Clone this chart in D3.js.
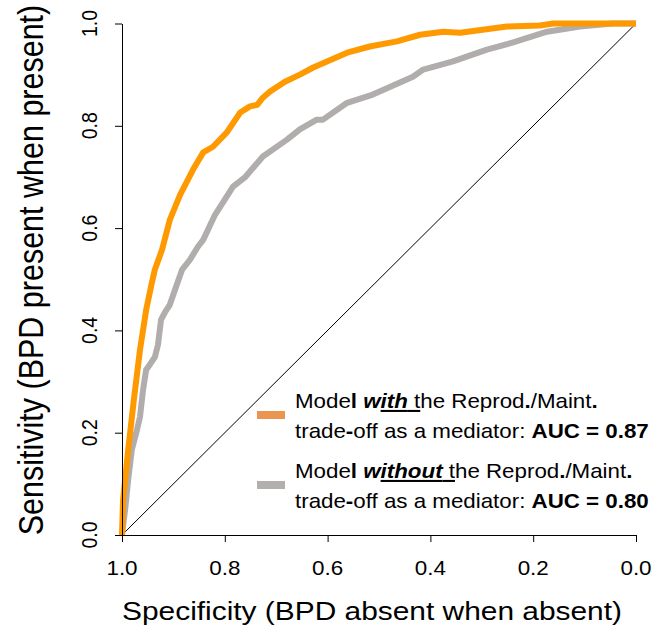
<!DOCTYPE html>
<html>
<head>
<meta charset="utf-8">
<script src="https://cdn.jsdelivr.net/npm/d3@7"></script>
<style>
  body { margin: 0; background: #fff; }
  text { font-family: "Liberation Sans", Arial, sans-serif; fill: #000; }
</style>
</head>
<body>
<script>
// ROC curves (specificity, sensitivity)
var specWith = [1.000, 0.998, 0.988, 0.977, 0.965, 0.953, 0.942, 0.936, 0.922, 0.907, 0.887, 0.862, 0.842, 0.823, 0.796, 0.770, 0.751, 0.737, 0.726, 0.712, 0.683, 0.654, 0.628, 0.562, 0.518, 0.465, 0.420, 0.375, 0.342, 0.251, 0.187, 0.161, 0.000];
var sensWith = [0.000, 0.068, 0.166, 0.264, 0.362, 0.440, 0.493, 0.519, 0.558, 0.616, 0.665, 0.714, 0.748, 0.759, 0.787, 0.826, 0.838, 0.841, 0.855, 0.867, 0.886, 0.900, 0.914, 0.943, 0.955, 0.965, 0.978, 0.984, 0.982, 0.994, 0.996, 1.000, 1.000];

var specWithout = [1.000, 0.994, 0.988, 0.981, 0.971, 0.965, 0.959, 0.953, 0.946, 0.936, 0.930, 0.924, 0.916, 0.907, 0.897, 0.883, 0.868, 0.852, 0.842, 0.819, 0.784, 0.761, 0.726, 0.679, 0.654, 0.621, 0.609, 0.562, 0.512, 0.434, 0.414, 0.356, 0.290, 0.239, 0.173, 0.109, 0.045, 0.000];
var sensWithout = [0.000, 0.049, 0.108, 0.166, 0.205, 0.231, 0.284, 0.323, 0.333, 0.348, 0.372, 0.421, 0.436, 0.450, 0.479, 0.519, 0.538, 0.564, 0.577, 0.626, 0.681, 0.699, 0.740, 0.773, 0.793, 0.812, 0.812, 0.845, 0.861, 0.896, 0.910, 0.926, 0.949, 0.963, 0.984, 0.994, 1.000, 1.000];

var xTicks = [1.0, 0.8, 0.6, 0.4, 0.2, 0.0];
var yTicks = [0.0, 0.2, 0.4, 0.6, 0.8, 1.0];

var W = 655, H = 629;
var stretch = 1.15; // glyphs in the picture are a bit wide

var svg = d3.select('body').append('svg')
	.attr('width', W)
	.attr('height', H);

var x = d3.scaleLinear().domain([1, 0]).range([122, 636]);
var y = d3.scaleLinear().domain([0, 1]).range([535, 23.5]);

// diagonal
svg.append('line')
	.attr('x1', x(1)).attr('y1', y(0))
	.attr('x2', x(0)).attr('y2', y(1))
	.attr('stroke', '#000')
	.attr('stroke-width', 1);

var line = d3.line()
	.x(function(d) { return x(d[0]); })
	.y(function(d) { return y(d[1]); });

function pairs(a, b) { return a.map(function(v, i) { return [v, b[i]]; }); }

svg.append('path')
	.datum(pairs(specWithout, sensWithout))
	.attr('d', line)
	.attr('fill', 'none')
	.attr('stroke', '#b1adac')
	.attr('stroke-width', 6)
	.attr('stroke-linejoin', 'round');

svg.append('path')
	.datum(pairs(specWith, sensWith))
	.attr('d', line)
	.attr('fill', 'none')
	.attr('stroke', '#ff9900')
	.attr('stroke-width', 6)
	.attr('stroke-linejoin', 'round');

// axes
svg.append('g')
	.attr('transform', 'translate(0,535)')
	.call(d3.axisBottom(x).tickValues(xTicks).tickSize(7).tickSizeOuter(0).tickFormat(''));
svg.append('g')
	.attr('transform', 'translate(122,0)')
	.call(d3.axisLeft(y).tickValues(yTicks).tickSize(7).tickSizeOuter(0).tickFormat(''));
svg.selectAll('.domain, .tick line').attr('stroke', '#000').attr('stroke-width', 1);

svg.append('g').selectAll('text')
	.data(xTicks)
	.enter()
	.append('text')
	.attr('transform', function(d) { return 'translate(' + x(d) + ',575) scale(' + stretch + ',1)'; })
	.attr('text-anchor', 'middle')
	.style('font-size', '19.5px')
	.text(function(d) { return d.toFixed(1); });

svg.append('g').selectAll('text')
	.data(yTicks)
	.enter()
	.append('text')
	.attr('transform', function(d) { return 'translate(97,' + y(d) + ') scale(' + stretch + ',1) rotate(-90)'; })
	.attr('text-anchor', 'middle')
	.style('font-size', '19.5px')
	.text(function(d) { return d.toFixed(1); });

// axis titles
svg.append('text')
	.attr('transform', 'translate(372,620) scale(' + stretch + ',1)')
	.attr('text-anchor', 'middle')
	.style('font-size', '26px')
	.text('Specificity (BPD absent when absent)');

svg.append('text')
	.attr('transform', 'translate(43,270) scale(' + stretch + ',1) rotate(-90)')
	.attr('text-anchor', 'middle')
	.style('font-size', '30.5px')
	.text('Sensitivity (BPD present when present)');

// legend
function legendLine(py, parts) {
	var t = svg.append('text')
		.attr('y', py)
		.style('font-size', '20.5px')
		.attr('xml:space', 'preserve');
	parts.forEach(function(p) {
		t.append('tspan')
			.style('font-weight', p[1] ? 'bold' : 'normal')
			.style('font-style', p[2] ? 'italic' : 'normal')
			.style('text-decoration', p[3] ? 'underline' : 'none')
			.text(p[0]);
	});
	return t;
}

function legendEntry(top, word, auc, color) {
	svg.append('rect')
		.attr('x', 257).attr('y', top + 3)
		.attr('width', 28).attr('height', 8)
		.attr('fill', color);
	var l1 = legendLine(top, [
		['Mode', 0, 0, 0], ['l', 1, 0, 0], [' ', 0, 0, 0],
		[word.slice(0, 1), 1, 1, 0], [word.slice(1), 1, 1, 1], [' t', 0, 0, 1],
		['he Reprod', 0, 0, 0], ['.', 1, 0, 0], ['/Maint', 0, 0, 0], ['.', 1, 0, 0]
	]);
	var l2 = legendLine(top + 30, [
		['trade', 0, 0, 0], ['-', 1, 0, 0], ['off as a mediator: ', 0, 0, 0],
		['AUC = ' + auc, 1, 0, 0]
	]);
	// second line runs from x=295 to about x=649 in the picture
	var s = 354 / l2.node().getComputedTextLength();
	[l1, l2].forEach(function(t) {
		var yy = +t.attr('y');
		t.attr('y', 0).attr('transform', 'translate(295,' + yy + ') scale(' + s + ',1)');
	});
}

legendEntry(408, 'with', '0.87', '#ea9550');
legendEntry(478, 'without', '0.80', '#b3afae');
</script>
</body>
</html>
